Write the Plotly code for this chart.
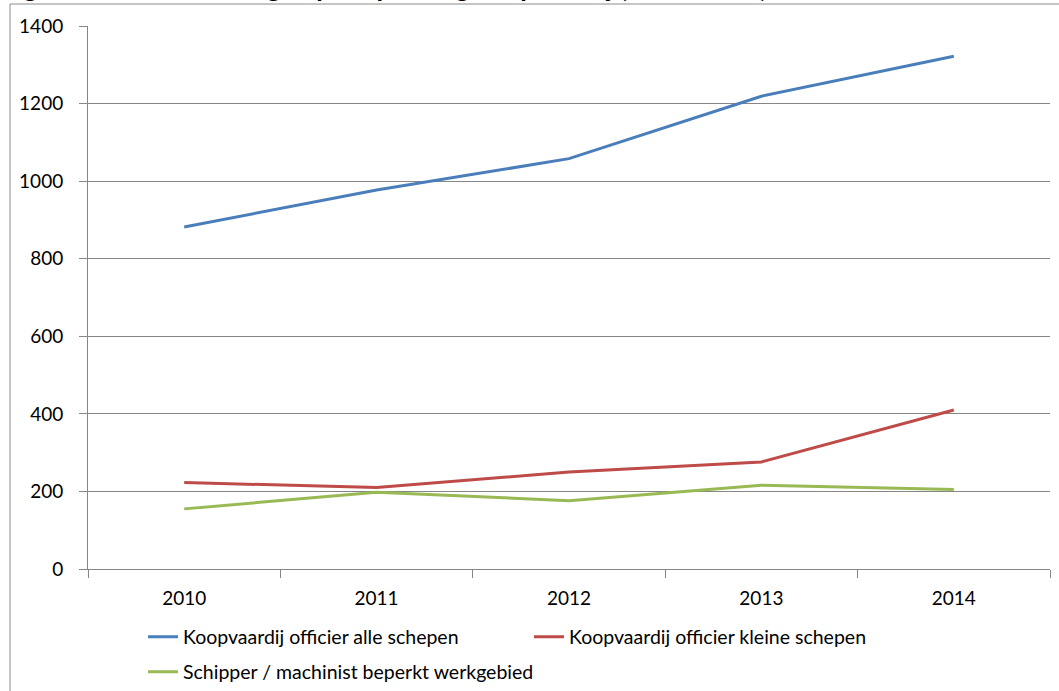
import plotly.graph_objects as go

years = ["2010", "2011", "2012", "2013", "2014"]
alle_schepen = [882, 977, 1058, 1219, 1322]
kleine_schepen = [223, 210, 250, 276, 410]
beperkt_werkgebied = [155, 198, 176, 216, 205]

names = ["Koopvaardij officier alle schepen",
         "Koopvaardij officier kleine schepen",
         "Schipper / machinist beperkt werkgebied"]
colors = ["#4A7EBB", "#BE4B48", "#98B954"]

W, H = 1059, 691
L, R, T, B = 88, 9, 26, 122
pw, ph = W - L - R, H - T - B

def px(x):
    return (x - L) / pw

def py(y):
    return (H - B - y) / ph

FONT = "Lato"

fig = go.Figure()
series = [alle_schepen, kleine_schepen, beperkt_werkgebied]
legends = ["legend", "legend", "legend2"]
for name, vals, col, lg in zip(names, series, colors, legends):
    fig.add_trace(go.Scatter(x=years, y=vals, mode="lines", name=name,
                             line=dict(color=col, width=3), legend=lg))

fig.update_layout(
    width=W, height=H,
    margin=dict(l=L, r=R, t=T, b=B),
    paper_bgcolor="white", plot_bgcolor="white",
    font=dict(family=FONT, size=19, color="black"),
    showlegend=True,
    legend=dict(orientation="h", xref="container", yref="container",
                x=143 / W, y=1 - 637 / H, xanchor="left", yanchor="middle",
                entrywidth=341, entrywidthmode="pixels",
                font=dict(family=FONT, size=19.5), bgcolor="rgba(0,0,0,0)"),
    legend2=dict(orientation="h", xref="container", yref="container",
                 x=143 / W, y=1 - 672 / H, xanchor="left", yanchor="middle",
                 font=dict(family=FONT, size=19.5), bgcolor="rgba(0,0,0,0)"),
    xaxis=dict(type="category", showgrid=False, showline=True, linecolor="#868686",
               linewidth=1, ticks="outside", tickson="boundaries", ticklen=8,
               tickcolor="#868686", ticklabelstandoff=12, range=[-0.5, 4.5],
               fixedrange=True),
    yaxis=dict(range=[0, 1400], dtick=200, showgrid=True, gridcolor="#868686",
               gridwidth=1, showline=True, linecolor="#868686", ticks="outside",
               ticklen=8, tickcolor="#868686", ticklabelstandoff=12,
               zeroline=False, fixedrange=True),
    shapes=[dict(type="rect", xref="paper", yref="paper",
                 x0=px(10), x1=px(1065), y0=py(700), y1=py(4),
                 line=dict(color="#8C8C8C", width=1), fillcolor="rgba(0,0,0,0)",
                 layer="below")],
    annotations=[dict(text="<b>Figuur 5: Aantal leerlingen per opleiding koopvaardij (2010-2014)</b>",
                      xref="paper", yref="paper", x=px(0), y=py(5),
                      xanchor="left", yanchor="bottom", showarrow=False,
                      font=dict(family=FONT, size=26.5, color="black"))],
)

fig.write_html("out.html", config={"displayModeBar": False},
               post_script="document.body.style.margin='0';document.body.style.overflow='hidden';")
